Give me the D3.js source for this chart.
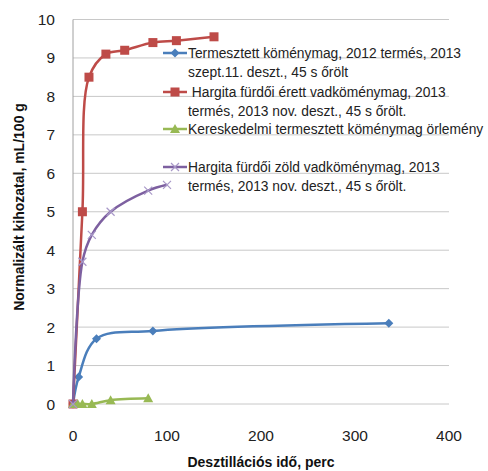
<!DOCTYPE html>
<html><head><meta charset="utf-8">
<script src="https://cdn.jsdelivr.net/npm/d3@7"></script>
<style>body{margin:0;background:#fff}svg{display:block}text{font-family:"Liberation Sans",Arial,sans-serif}</style>
</head><body><svg id="c" width="488" height="471"></svg>
<script>
const xTicks = [0,100,200,300,400];
const yTicks = [0,1,2,3,4,5,6,7,8,9,10];
const blueX = [0,6,25,85,336];
const blueY = [0,0.7,1.7,1.9,2.1];
const redX = [0,10,17,35,55,85,110,150];
const redY = [0,5,8.5,9.1,9.2,9.4,9.45,9.55];
const greenX = [0,5,10,20,40,80];
const greenY = [0,0,0,0,0.1,0.15];
const purpleX = [0,10,20,40,80,100];
const purpleY = [0,3.7,4.4,5.0,5.55,5.7];
const legendLabels = [
  ["Termesztett köménymag, 2012 termés, 2013","szept.11. deszt., 45 s őrölt"],
  [" Hargita fürdői érett vadköménymag, 2013","termés, 2013 nov. deszt., 45 s őrölt."],
  ["Kereskedelmi termesztett köménymag örlemény"],
  ["Hargita fürdői zöld vadköménymag, 2013","termés, 2013 nov. deszt., 45 s őrölt."]
];
const xTitle = "Desztillációs idő, perc";
const yTitle = "Normalizált kihozatal, mL/100 g";

const svg = d3.select("#c");
const L=73,R=449,T=19.5,B=404;
const x = d3.scaleLinear().domain([0,400]).range([L,R]);
const y = d3.scaleLinear().domain([0,10]).range([B,T]);

svg.append("g").selectAll("line").data(yTicks).join("line")
  .attr("x1",L).attr("x2",R).attr("y1",d=>y(d)).attr("y2",d=>y(d))
  .attr("stroke","#c8c8c8").attr("stroke-width",1);
svg.append("line").attr("x1",L).attr("x2",L).attr("y1",T).attr("y2",B)
  .attr("stroke","#a0a0a0").attr("stroke-width",1);

svg.append("g").selectAll("text").data(yTicks).join("text")
  .attr("x",55).attr("y",d=>y(d)+5.5).attr("text-anchor","end")
  .attr("font-size",15.5).attr("fill","#222").text(d=>d);
svg.append("g").selectAll("text").data(xTicks).join("text")
  .attr("x",d=>x(d)).attr("y",441).attr("text-anchor","middle")
  .attr("font-size",15.5).attr("fill","#222").text(d=>d);

svg.append("text").attr("x",(L+R)/2).attr("y",467).attr("text-anchor","middle")
  .attr("font-size",14).attr("font-weight","bold").attr("fill","#111").text(xTitle);
svg.append("text").attr("transform","translate(24,207) rotate(-90)").attr("text-anchor","middle")
  .attr("font-size",14).attr("font-weight","bold").attr("fill","#111").text(yTitle);

const series = [
  {xs:blueX, ys:blueY, color:"#4a7ebb", mk:"diamond"},
  {xs:redX, ys:redY, color:"#be4b48", mk:"square"},
  {xs:greenX, ys:greenY, color:"#98b954", mk:"triangle"},
  {xs:purpleX, ys:purpleY, color:"#7d60a0", mk:"x"}
];
const line = d3.line().curve(d3.curveCatmullRom.alpha(0.5)).x(d=>x(d[0])).y(d=>y(d[1]));

function marker(g, mk, cx, cy, color){
  if(mk==="diamond"){
    g.append("path").attr("d",`M${cx},${cy-4.5}L${cx+4.5},${cy}L${cx},${cy+4.5}L${cx-4.5},${cy}Z`).attr("fill",color);
  } else if(mk==="square"){
    g.append("rect").attr("x",cx-4.5).attr("y",cy-4.5).attr("width",9).attr("height",9).attr("fill",color);
  } else if(mk==="triangle"){
    g.append("path").attr("d",`M${cx},${cy-5}L${cx+5},${cy+4}L${cx-5},${cy+4}Z`).attr("fill",color);
  } else {
    g.append("path").attr("d",`M${cx-4},${cy-4}L${cx+4},${cy+4}M${cx-4},${cy+4}L${cx+4},${cy-4}`)
      .attr("stroke","#a898c8").attr("stroke-width",1.2).attr("fill","none");
  }
}

series.forEach(s=>{
  const pts = s.xs.map((v,i)=>[v,s.ys[i]]);
  const g = svg.append("g");
  g.append("path").attr("d",line(pts)).attr("fill","none").attr("stroke",s.color).attr("stroke-width",2.5);
  pts.forEach(p=>marker(g,s.mk,x(p[0]),y(p[1]),s.color));
});

const rowY = [53,92,129,167];
legendLabels.forEach((lines,i)=>{
  const s = series[i];
  const g = svg.append("g");
  const cy = rowY[i];
  g.append("line").attr("x1",163).attr("x2",187).attr("y1",cy).attr("y2",cy)
    .attr("stroke",s.color).attr("stroke-width",2.5);
  marker(g,s.mk,175,cy,s.color);
  lines.forEach((t,j)=>{
    g.append("text").attr("x",188).attr("y",cy+5+j*19).attr("font-size",13.8)
      .attr("fill","#222").attr("xml:space","preserve").text(t);
  });
});
</script></body></html>
